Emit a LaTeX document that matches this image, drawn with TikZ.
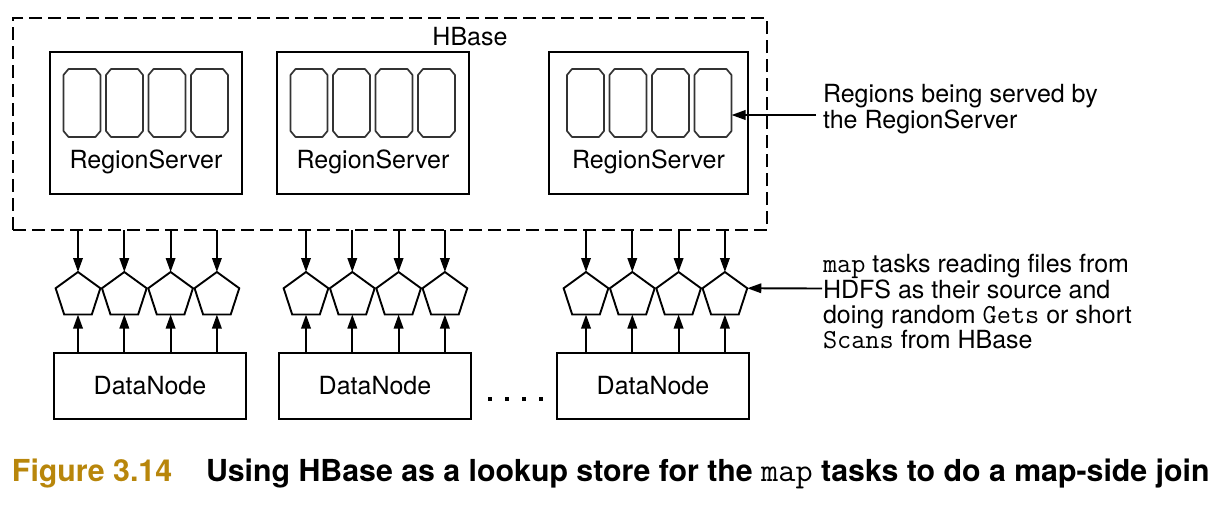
\documentclass[tikz,border=0pt]{standalone}
\usepackage{fontspec}
\setmainfont{TeX Gyre Heros}
\setmonofont{Latin Modern Mono}[Scale=1.1]
\newfontfamily\capfont{TeX Gyre Heros}
\usetikzlibrary{shapes.geometric,arrows.meta}
\definecolor{capgold}{RGB}{184,134,11}
\begin{document}
\begin{tikzpicture}[x=1pt,y=-1pt,
  every node/.style={inner sep=0pt,outer sep=0pt},
  txt/.style={font=\fontsize{25}{26}\selectfont},
  box/.style={draw,line width=2.1pt,rectangle},
  hbasebox/.style={draw,line width=2.1pt,dash pattern=on 13pt off 6pt},
  region/.style={rectangle,minimum width=37pt,minimum height=68pt},
  regionline/.style={draw=black!80,line width=1.7pt,line join=round},
  task/.style={regular polygon,regular polygon sides=5,minimum size=47pt,draw,line width=1.9pt},
  arr/.style={line width=1.9pt,-{Triangle[length=14pt,width=9.5pt]}},
  captxt/.style={anchor=base west,font=\capfont\bfseries\fontsize{30.3}{32}\selectfont}
]
\useasboundingbox (0,0) rectangle (1220,530);
\node[hbasebox,minimum width=754pt,minimum height=212pt] (hbase) at (390,124) {};
\node[txt,anchor=base] (hbaselbl) at (470,45) {HBase};

\foreach \i/\cx/\w/\rx in {1/146/192/82, 2/373/192/309, 3/648.5/199/585.5} {
  \node[box,minimum width=\w pt,minimum height=142pt] (rs\i) at (\cx,123) {};
  \node[txt,anchor=base] (rsl\i) at (\cx,168) {RegionServer};
  \foreach \j in {1,...,4} {
    \node[region] (r\i\j) at ({\rx+42.5*(\j-1)},103) {};
    \draw[regionline] ([xshift=5pt]r\i\j.north west) -- ([xshift=-5pt]r\i\j.north east)
      -- ([yshift=-6pt]r\i\j.north east) -- ([yshift=6pt]r\i\j.south east)
      -- ([xshift=-5pt]r\i\j.south east) -- ([xshift=5pt]r\i\j.south west)
      -- ([yshift=6pt]r\i\j.south west) -- ([yshift=-6pt]r\i\j.north west) -- cycle;
  }
}

\foreach \i/\cx/\px in {1/150/78, 2/375/306, 3/653/586} {
  \node[box,txt,minimum width=192pt,minimum height=66pt] (dn\i) at (\cx,386) {DataNode};
  \foreach \j in {1,...,4} {
    \node[task] (p\i\j) at ({\px+46.3*(\j-1)},295.5) {};
    \draw[arr] (p\i\j.north |- hbase.south) -- (p\i\j.north);
    \draw[arr] (p\i\j.south |- dn\i.north) -- (p\i\j.south);
  }
}

\foreach \x in {490,507,524,541} \fill (\x-2.4,396.6) rectangle (\x+2.4,401.4);

\node[txt,anchor=base west,align=left] (ann1) at (823,128) {Regions being served by\\the RegionServer};
\coordinate (a1) at (816,115);
\draw[arr] (a1) -- (a1 -| r34.east);

\node[anchor=base west,align=left,font=\fontsize{25}{24.7}\selectfont] (ann2) at (823,348) {\texttt{map} tasks reading files from\\HDFS as their source and\\doing random \texttt{Gets} or short\\\texttt{Scans} from HBase};
\coordinate (a2) at (822,288.5);
\draw[arr] (a2) -- (p34.corner 5);

\node[captxt,text=capgold] (figno) at (12,481) {Figure 3.14};
\node[captxt] (cap) at (206,481) {Using HBase as a lookup store for the {\mdseries\ttfamily map} tasks to do a map-side join};
\end{tikzpicture}
\end{document}
